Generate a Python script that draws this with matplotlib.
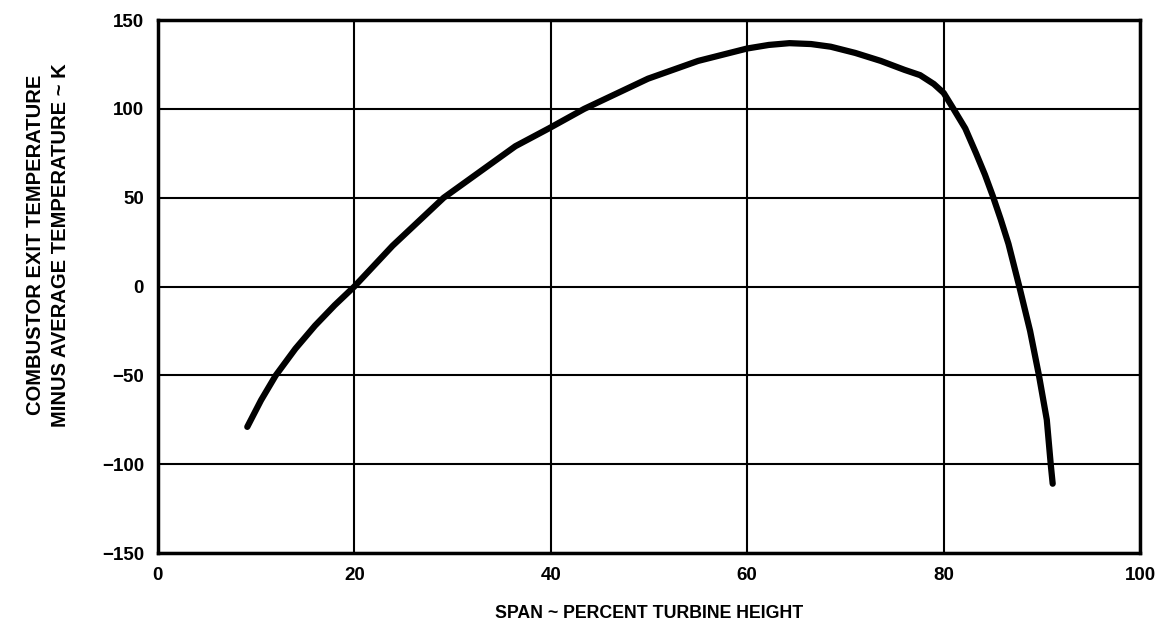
import matplotlib
matplotlib.use('Agg')
import matplotlib.pyplot as plt

plt.rcParams['font.family'] = ['Liberation Sans', 'DejaVu Sans']

# 스팬 위치 (%) 와 연소기 출구 온도 - 평균 온도 (K)
span = [9.1, 10.5, 12.0, 14.0, 16.0, 18.0, 20.0, 23.9, 29.1, 36.4, 39.8, 43.4,
        49.9, 55.0, 60.0, 62.2, 64.3, 66.5, 68.5, 71.0, 73.6, 76.0, 77.6, 79.0,
        80.0, 81.0, 82.2, 83.3, 84.2, 85.0, 85.8, 86.6, 87.7, 88.8, 89.7, 90.5,
        90.9, 91.1]
temp_diff = [-79, -64, -50, -35, -22, -10.5, 0, 23, 50, 79, 89, 100,
             117, 127, 134, 136, 137, 136.5, 135, 131.5, 127, 122, 119, 114,
             109, 100, 89, 75, 63, 51, 38, 24, 0, -25, -50, -75,
             -100, -111]

x_ticks = [0, 20, 40, 60, 80, 100]
y_ticks = [-150, -100, -50, 0, 50, 100, 150]

fig = plt.figure(figsize=(11.61, 6.27), dpi=100)
ax = fig.add_axes([0.136, 0.118, 0.846, 0.850])

ax.plot(span, temp_diff, color='black', lw=4.5, solid_capstyle='round',
        solid_joinstyle='round')

ax.set_xlim(0, 100)
ax.set_ylim(-150, 150)
ax.set_xticks(x_ticks)
ax.set_yticks(y_ticks)
ax.grid(True, color='black', lw=1.5)
ax.set_axisbelow(True)
for s in ax.spines.values():
    s.set_linewidth(2.5)
ax.tick_params(length=0, pad=10, labelsize=13.5)
for lab in ax.get_xticklabels() + ax.get_yticklabels():
    lab.set_fontweight('bold')

ax.set_xlabel('SPAN ~ PERCENT TURBINE HEIGHT', fontsize=12.8, fontweight='bold', labelpad=15)
fig.text(48 / 1161, 1 - 245 / 627,
         'COMBUSTOR EXIT TEMPERATURE\nMINUS AVERAGE TEMPERATURE ~ K',
         rotation=90, ha='center', va='center', multialignment='center',
         fontsize=14.5, fontweight='bold', linespacing=1.45)

fig.savefig('out.png', dpi=100)
